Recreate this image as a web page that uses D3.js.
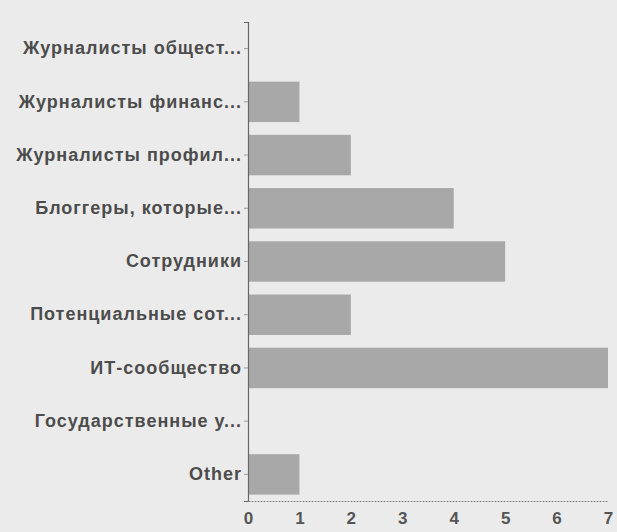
<!DOCTYPE html>
<html>
<head>
<meta charset="utf-8">
<script src="https://cdn.jsdelivr.net/npm/d3@7"></script>
<style>
  body { margin: 0; background: #ebebeb; }
  text { font-family: "Liberation Sans", Arial, sans-serif; fill: #3a3a3a; }
</style>
</head>
<body>
<div id="chart"></div>
<script>
// Chart data
var categories = [
    "Журналисты общест...",
    "Журналисты финанс...",
    "Журналисты профил...",
    "Блоггеры, которые...",
    "Сотрудники",
    "Потенциальные сот...",
    "ИТ-сообщество",
    "Государственные у...",
    "Other"
];
var values = [0, 1, 2, 4, 5, 2, 7, 0, 1];
var xTicks = [0, 1, 2, 3, 4, 5, 6, 7];

var w = 617;
var h = 532;
var margin = { top: 22, right: 9, bottom: 31, left: 248 };

var svg = d3.select("#chart")
    .append("svg")
    .attr("width", w)
    .attr("height", h)
    .style("background-color", "#ebebeb");

var xScale = d3.scaleLinear()
    .domain([0, 7])
    .range([margin.left, w - margin.right]);

var yScale = d3.scaleBand()
    .domain(categories)
    .range([margin.top, h - margin.bottom])
    .paddingInner(0.24)
    .paddingOuter(0.12);

// Bars
svg.selectAll("rect.bar")
    .data(values)
    .enter()
    .append("rect")
    .attr("class", "bar")
    .attr("x", xScale(0))
    .attr("y", function (d, i) { return yScale(categories[i]); })
    .attr("width", function (d) { return xScale(d) - xScale(0); })
    .attr("height", yScale.bandwidth())
    .attr("fill", "#a8a8a8");

// Y axis
var yAxis = d3.axisLeft(yScale).tickSize(4).tickPadding(2);
var gy = svg.append("g")
    .attr("class", "y-axis")
    .attr("transform", "translate(" + margin.left + ",0)")
    .call(yAxis);
gy.select(".domain").attr("stroke", "#666").attr("stroke-width", 1.2);
gy.selectAll(".tick line").attr("stroke", "#999");
gy.selectAll("text")
    .style("font-size", "18px")
    .style("font-weight", "bold")
    .style("letter-spacing", "1px")
    .style("fill", "#4c4c4c");

// X axis
var xAxis = d3.axisBottom(xScale)
    .tickValues(xTicks)
    .tickFormat(d3.format("d"))
    .tickSize(0)
    .tickPadding(11);
var gx = svg.append("g")
    .attr("class", "x-axis")
    .attr("transform", "translate(0," + (h - margin.bottom) + ")")
    .call(xAxis);
gx.select(".domain").attr("stroke", "#888").attr("stroke-dasharray", "2,1");
gx.selectAll("text")
    .style("font-size", "17px")
    .style("font-weight", "bold")
    .style("fill", "#555");
</script>
</body>
</html>
